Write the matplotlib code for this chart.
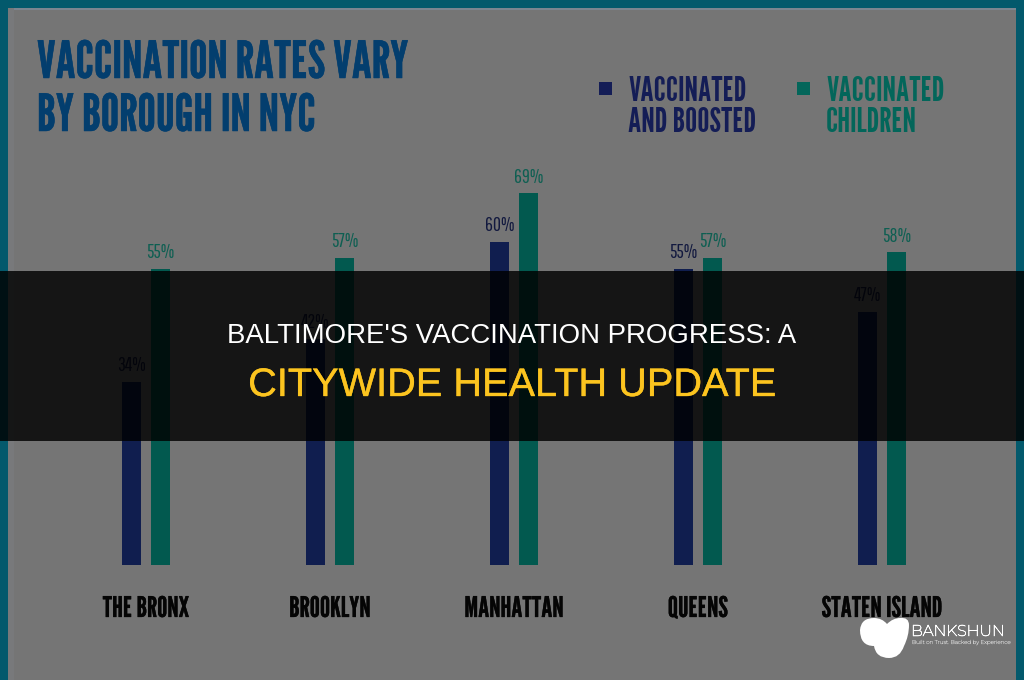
import matplotlib
matplotlib.use("Agg")
import matplotlib.pyplot as plt
import matplotlib.patheffects as pe
from matplotlib.patches import Rectangle, PathPatch
from matplotlib.path import Path

# -----------------------
# Data
# -----------------------
boroughs = ["THE BRONX", "BROOKLYN", "MANHATTAN", "QUEENS", "STATEN ISLAND"]
boosted = [34, 42, 60, 55, 47]
children = [55, 57, 69, 57, 58]
legend_boosted = ["VACCINATED", "AND BOOSTED"]
legend_children = ["VACCINATED", "CHILDREN"]
title_lines = ["VACCINATION RATES VARY", "BY BOROUGH IN NYC"]
band_line1 = "BALTIMORE'S VACCINATION PROGRESS: A"
band_line2 = "CITYWIDE HEALTH UPDATE"

# -----------------------
# Colours and layout
# -----------------------
BG = "#757575"
FRAME = "#03596c"
NAVY = "#101e4f"
TEAL = "#02594f"
TITLE_BLUE = "#033e6e"
YELLOW = "#fcc41f"
W, H = 1024, 680
BASE_Y = 564.5       # pixel row of the zero line
PX_PER_PCT = 5.38
GROUP_X0 = 146.0     # pixel centre of the first group
GROUP_STEP = 184.0
BAR_W = 18.7 / GROUP_STEP
BAR_OFF = 14.7 / GROUP_STEP
HEAD_FONT = ["League Gothic", "DejaVu Sans"]
NUM_FONT = ["Pathway Gothic One", "DejaVu Sans"]
LOGO_FONT = ["Montserrat", "DejaVu Sans"]


def thicken(width, color):
    # the condensed faces only come in one weight, so fatten them with a stroke
    return [pe.withStroke(linewidth=width, foreground=color)]


fig = plt.figure(figsize=(W / 100, H / 100), dpi=100, facecolor=BG)

# -----------------------
# Bars, on an axes scaled in percent
# -----------------------
ax = fig.add_axes([0, 0, 1, 1])
ax.set_xlim(-GROUP_X0 / GROUP_STEP, (W - GROUP_X0) / GROUP_STEP)
ax.set_ylim(-(H - BASE_Y) / PX_PER_PCT, BASE_Y / PX_PER_PCT)
ax.axis("off")

label_gap = 10.5 / PX_PER_PCT
for i in range(len(boroughs)):
    ax.bar(i - BAR_OFF, boosted[i], BAR_W, color=NAVY)
    ax.bar(i + BAR_OFF, children[i], BAR_W, color=TEAL)
    ax.text(i - BAR_OFF, boosted[i] + label_gap, f"{boosted[i]}%", fontsize=14, color="#12193f",
            family=NUM_FONT, ha="center", va="baseline")
    ax.text(i + BAR_OFF, children[i] + label_gap, f"{children[i]}%", fontsize=14, color="#0e5f52",
            family=NUM_FONT, ha="center", va="baseline")
    ax.text(i, -(617 - BASE_Y) / PX_PER_PCT, boroughs[i], fontsize=20.5, color="#050505",
            family=HEAD_FONT, ha="center", va="baseline", path_effects=thicken(0.2, "#050505"))

# -----------------------
# Frame, headings and legend, placed in pixels
# -----------------------
top = fig.add_axes([0, 0, 1, 1], zorder=5)
top.set_xlim(0, W)
top.set_ylim(H, 0)
top.axis("off")
top.patch.set_alpha(0)

top.add_patch(Rectangle((8, 8), W - 16, 2, color="#7b8590", lw=0))
top.add_patch(Rectangle((8, 8), 6, H, color="#78797b", lw=0))
top.add_patch(Rectangle((0, 0), W, 8, color=FRAME, lw=0))
top.add_patch(Rectangle((0, 0), 8, H, color=FRAME, lw=0))
top.add_patch(Rectangle((W - 8, 0), 8, H, color=FRAME, lw=0))

for j, y in enumerate([78, 131]):
    top.text(37, y, title_lines[j], fontsize=37, color=TITLE_BLUE, family=HEAD_FONT, ha="left",
             va="baseline", path_effects=thicken(0.35, TITLE_BLUE))

top.add_patch(Rectangle((599, 82), 13, 13, color="#141d56", lw=0))
top.add_patch(Rectangle((796.5, 82), 13, 13, color="#03665a", lw=0))
for j in range(2):
    y = 101 + 31 * j
    top.text(628.5, y, legend_boosted[j], fontsize=24.5, color="#141d56", family=HEAD_FONT, ha="left",
             va="baseline")
    top.text(826, y, legend_children[j], fontsize=24.5, color="#03665a", family=HEAD_FONT, ha="left",
             va="baseline")

# dark band across the middle, with its two lines of text
top.add_patch(Rectangle((0, 271), W, 170, color="black", alpha=0.82, lw=0))
top.text(512, 343, band_line1, fontsize=19.9, color="white", family="Liberation Sans",
         ha="center", va="baseline")
top.text(512, 396, band_line2, fontsize=28.6, color=YELLOW, family="Liberation Sans",
         ha="center", va="baseline", path_effects=thicken(0.25, YELLOW))

# -----------------------
# Logo blob and wordmark
# -----------------------
verts = [(860, 630), (861, 618), (874, 618), (882, 618), (887, 624), (893, 618), (900, 618),
         (909, 617), (909, 625), (909, 636), (904, 646), (900, 658), (889, 658),
         (876, 658), (874, 646), (860, 646), (860, 630)]
codes = [Path.MOVETO] + [Path.CURVE3] * 16
top.add_patch(PathPatch(Path(verts, codes), facecolor="white", edgecolor="none"))
top.text(911, 636, "BANKSHUN", fontsize=11.3, color="white", family=LOGO_FONT, ha="left",
         va="baseline", path_effects=thicken(0.4, "white"))
top.text(912, 644, "Built on Trust. Backed by Experience", fontsize=4, color="#cfcfcf",
         family=LOGO_FONT, ha="left", va="baseline", path_effects=thicken(0.15, "#cfcfcf"))

fig.savefig("out.png", dpi=100, facecolor=BG)
